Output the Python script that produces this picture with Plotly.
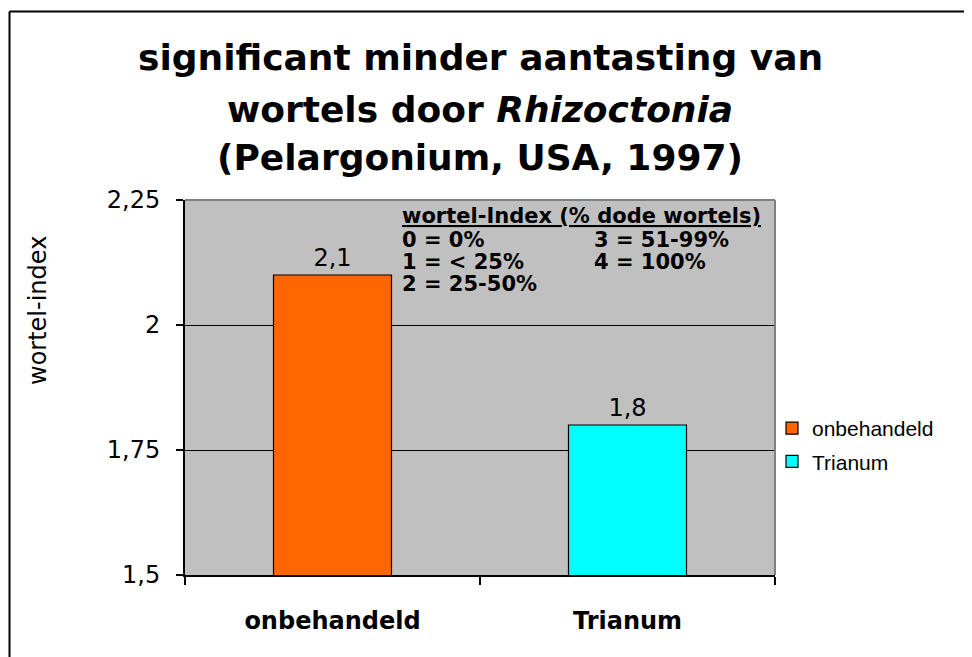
import plotly.graph_objects as go

# ---- data ----
categories = ["onbehandeld", "Trianum"]
values = [2.1, 1.8]
bar_colors = ["#FF6600", "#00FFFF"]
y_tick_vals = [1.5, 1.75, 2.0, 2.25]
y_tick_labels = ["1,5", "1,75", "2", "2,25"]
title_lines = ["significant minder aantasting van",
               "wortels door <i>Rhizoctonia</i>",
               "(Pelargonium, USA, 1997)"]
y_title = "wortel-index"
key_heading = "wortel-Index (% dode wortels)"
key_left = ["0 = 0%", "1 = &lt; 25%", "2 = 25-50%"]
key_right = ["3 = 51-99%", "4 = 100%"]

OFF = 8  # page body margin
W, H = 972 - OFF, 657 - OFF
L, R, T, B = 185, 775, 200, 575  # plot area in screen pixels


def px(x):
    return (x - L) / (R - L)


def py(y):
    return (B - y) / (B - T)


fig = go.Figure()
for i, (c, v, col) in enumerate(zip(categories, values, bar_colors)):
    fig.add_trace(go.Bar(
        x=[c], y=[v], name=c, legendgroup=str(i),
        marker=dict(color=col, line=dict(color="black", width=1.2)),
        texttemplate="%{y:.1f}", textposition="outside",
        textfont=dict(family="DejaVu Sans", size=24, color="black"),
        cliponaxis=False,
    ))

annotations = []
title_y = [58, 109, 158]
for t, yy in zip(title_lines, title_y):
    annotations.append(dict(
        text="<b>" + t + "</b>",
        xref="paper", yref="paper", x=0.5, y=py(yy), xanchor="center", yanchor="middle",
        showarrow=False, font=dict(family="DejaVu Sans", size=36, color="black")))
annotations.append(dict(
    text=y_title, textangle=-90, xref="paper", yref="paper", x=px(38), y=py(311),
    xanchor="center", yanchor="middle", showarrow=False,
    font=dict(family="DejaVu Sans", size=24, color="black")))

key_font = dict(family="DejaVu Sans", size=21, color="black")
annotations.append(dict(text="<b><u>" + key_heading + "</u></b>", xref="paper", yref="paper",
                        x=px(400), y=py(216), xanchor="left", yanchor="middle",
                        showarrow=False, font=key_font))
for i, t in enumerate(key_left):
    annotations.append(dict(text="<b>" + t + "</b>", xref="paper", yref="paper",
                            x=px(400), y=py(240 + 22 * i), xanchor="left", yanchor="middle",
                            showarrow=False, font=key_font))
for i, t in enumerate(key_right):
    annotations.append(dict(text="<b>" + t + "</b>", xref="paper", yref="paper",
                            x=px(592), y=py(240 + 22 * i), xanchor="left", yanchor="middle",
                            showarrow=False, font=key_font))

shapes = [
    # gray top and right plot border
    dict(type="line", xref="paper", yref="paper", x0=0, x1=1, y0=1, y1=1,
         line=dict(color="#808080", width=2)),
    dict(type="line", xref="paper", yref="paper", x0=1, x1=1, y0=0, y1=1,
         line=dict(color="#808080", width=2)),
    # outer chart border (top and left)
    dict(type="line", xref="paper", yref="paper", x0=px(9.5), x1=px(980), y0=py(11.5), y1=py(11.5),
         line=dict(color="black", width=2)),
    dict(type="line", xref="paper", yref="paper", x0=px(9.5), x1=px(9.5), y0=py(11.5), y1=py(670),
         line=dict(color="black", width=2)),
]

fig.update_layout(
    width=W, height=H,
    margin=dict(l=L - OFF, r=W - (R - OFF), t=T - OFF, b=H - (B - OFF), pad=0),
    paper_bgcolor="white", plot_bgcolor="#C0C0C0",
    separators=",.",
    barmode="overlay", bargap=0.6,
    showlegend=True,
    legend=dict(x=px(772), y=py(408), xanchor="left", yanchor="top",
                font=dict(family="Liberation Sans", size=21, color="black"),
                traceorder="grouped", tracegroupgap=3, bgcolor="rgba(0,0,0,0)"),
    annotations=annotations,
    shapes=shapes,
    font=dict(family="DejaVu Sans", color="black"),
)
fig.update_xaxes(
    type="category", categoryorder="array", categoryarray=categories,
    showline=True, linecolor="black", linewidth=2,
    ticks="outside", tickson="boundaries", ticklen=8, tickwidth=2, tickcolor="black",
    tickfont=dict(family="DejaVu Sans", size=24, color="black", weight="bold"),
    ticklabelstandoff=23, showgrid=False,
)
fig.update_yaxes(
    range=[1.5, 2.25], tickvals=y_tick_vals, ticktext=y_tick_labels,
    showline=True, linecolor="black", linewidth=2,
    ticks="outside", ticklen=7, tickwidth=2, tickcolor="black",
    tickfont=dict(family="DejaVu Sans", size=24, color="black"),
    ticklabelstandoff=11,
    showgrid=True, gridcolor="black", gridwidth=1, zeroline=False,
)

fig.write_html("out.html")
